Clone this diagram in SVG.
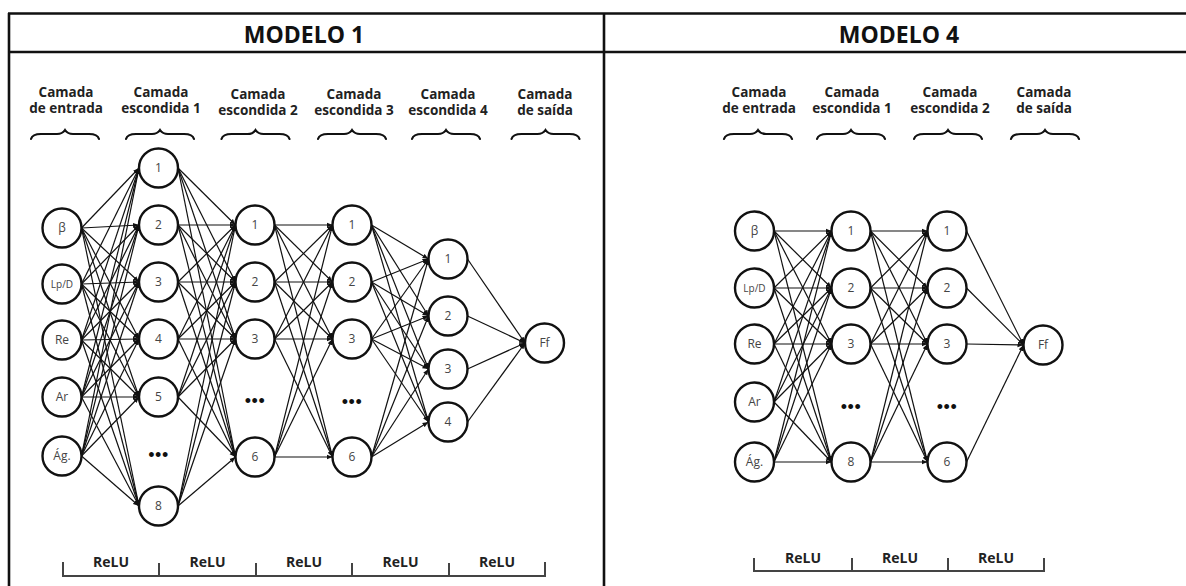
<svg xmlns="http://www.w3.org/2000/svg" width="1186" height="586" viewBox="0 0 1186 586">
  <style>
    .frame { stroke: #111; stroke-width: 2.6; fill: none; }
    .title { font-family: "Open Sans", "Liberation Sans", sans-serif; font-weight: 700; font-size: 23px; fill: #111; text-anchor: middle; }
    .layer { font-family: "Open Sans", "Liberation Sans", sans-serif; font-weight: 700; font-size: 13.5px; fill: #222; text-anchor: middle; }
    .brace { stroke: #111; stroke-width: 2.2; fill: none; stroke-linecap: round; }
    .node circle { fill: #fff; stroke: #111; stroke-width: 2.4; }
    .node text { font-family: "Open Sans", "Liberation Sans", sans-serif; font-size: 12px; fill: #444; text-anchor: middle; }
    .node text.sm { font-size: 10px; }
    .dots { font-family: "Liberation Sans", sans-serif; font-size: 18px; fill: #111; text-anchor: middle; letter-spacing: 0.5px; }
    .edges path { stroke: #111; stroke-width: 1.2; fill: none; marker-end: url(#ah); }
    .bracket { stroke: #444; stroke-width: 2; fill: none; }
    .act { font-family: "Open Sans", "Liberation Sans", sans-serif; font-weight: 700; font-size: 14px; fill: #222; text-anchor: middle; }
  </style>
  <defs>
    <marker id="ah" viewBox="0 0 6 6" refX="6" refY="3" markerWidth="6" markerHeight="6" markerUnits="userSpaceOnUse" orient="auto">
      <path d="M0 0.6L6 3L0 5.4z" fill="#111"/>
    </marker>
    <path id="brace" class="brace" d="M-34 139C-33 135.5 -30 134 -24 134L-8 134C-4 134 -2 133 0 130C2 133 4 134 8 134L24 134C30 134 33 135.5 34 139"/>
  </defs>

  <!-- frame -->
  <g id="frame">
    <path class="frame" d="M8 13.5H1186M8 52H1186M9 13V586M604 13V586"/>
    <text class="title" x="304" y="43">MODELO 1</text>
    <text class="title" x="899" y="43">MODELO 4</text>
  </g>

  <!-- layer captions, model 1 -->
  <g id="captions-m1">
    <text class="layer" x="66" y="97">Camada</text><text class="layer" x="66" y="113">de entrada</text>
    <text class="layer" x="161" y="97">Camada</text><text class="layer" x="161" y="113">escondida 1</text>
    <text class="layer" x="258" y="99">Camada</text><text class="layer" x="258" y="115">escondida 2</text>
    <text class="layer" x="354" y="99">Camada</text><text class="layer" x="354" y="115">escondida 3</text>
    <text class="layer" x="448" y="99">Camada</text><text class="layer" x="448" y="115">escondida 4</text>
    <text class="layer" x="545" y="99">Camada</text><text class="layer" x="545" y="115">de saída</text>
    <use href="#brace" x="65" y="0"/>
    <use href="#brace" x="160" y="0"/>
    <use href="#brace" x="255.5" y="0"/>
    <use href="#brace" x="352" y="0"/>
    <use href="#brace" x="446" y="0"/>
    <use href="#brace" x="545.5" y="0"/>
  </g>

  <!-- layer captions, model 4 -->
  <g id="captions-m4">
    <text class="layer" x="759" y="97">Camada</text><text class="layer" x="759" y="113">de entrada</text>
    <text class="layer" x="852" y="97">Camada</text><text class="layer" x="852" y="113">escondida 1</text>
    <text class="layer" x="950" y="97">Camada</text><text class="layer" x="950" y="113">escondida 2</text>
    <text class="layer" x="1044" y="97">Camada</text><text class="layer" x="1044" y="113">de saída</text>
    <use href="#brace" x="758" y="0"/>
    <use href="#brace" x="851" y="0"/>
    <use href="#brace" x="948" y="0"/>
    <use href="#brace" x="1045" y="0"/>
  </g>

  <!-- connectors -->
  <g id="connectors" class="edges">
    <!-- model 1: input -> hidden 1 -->
    <path d="M81.5 228L139 168"/><path d="M81.5 228L139 225"/><path d="M81.5 228L139 282"/><path d="M81.5 228L139 339"/><path d="M81.5 228L139 397"/><path d="M81.5 228L139 506"/>
    <path d="M81.5 284L139 168"/><path d="M81.5 284L139 225"/><path d="M81.5 284L139 282"/><path d="M81.5 284L139 339"/><path d="M81.5 284L139 397"/><path d="M81.5 284L139 506"/>
    <path d="M81.5 340L139 168"/><path d="M81.5 340L139 225"/><path d="M81.5 340L139 282"/><path d="M81.5 340L139 339"/><path d="M81.5 340L139 397"/><path d="M81.5 340L139 506"/>
    <path d="M81.5 397L139 168"/><path d="M81.5 397L139 225"/><path d="M81.5 397L139 282"/><path d="M81.5 397L139 339"/><path d="M81.5 397L139 397"/><path d="M81.5 397L139 506"/>
    <path d="M81.5 456L139 168"/><path d="M81.5 456L139 225"/><path d="M81.5 456L139 282"/><path d="M81.5 456L139 339"/><path d="M81.5 456L139 397"/><path d="M81.5 456L139 506"/>
    <!-- model 1: hidden 1 -> hidden 2 -->
    <path d="M178 168L235.5 225"/><path d="M178 168L235.5 282"/><path d="M178 168L235.5 339"/><path d="M178 168L235.5 457"/>
    <path d="M178 225L235.5 225"/><path d="M178 225L235.5 282"/><path d="M178 225L235.5 339"/><path d="M178 225L235.5 457"/>
    <path d="M178 282L235.5 225"/><path d="M178 282L235.5 282"/><path d="M178 282L235.5 339"/><path d="M178 282L235.5 457"/>
    <path d="M178 339L235.5 225"/><path d="M178 339L235.5 282"/><path d="M178 339L235.5 339"/><path d="M178 339L235.5 457"/>
    <path d="M178 397L235.5 225"/><path d="M178 397L235.5 282"/><path d="M178 397L235.5 339"/><path d="M178 397L235.5 457"/>
    <path d="M178 506L235.5 225"/><path d="M178 506L235.5 282"/><path d="M178 506L235.5 339"/><path d="M178 506L235.5 457"/>
    <!-- model 1: hidden 2 -> hidden 3 -->
    <path d="M274.5 225L332.5 225"/><path d="M274.5 225L332.5 282"/><path d="M274.5 225L332.5 339"/><path d="M274.5 225L332.5 457"/>
    <path d="M274.5 282L332.5 225"/><path d="M274.5 282L332.5 282"/><path d="M274.5 282L332.5 339"/><path d="M274.5 282L332.5 457"/>
    <path d="M274.5 339L332.5 225"/><path d="M274.5 339L332.5 282"/><path d="M274.5 339L332.5 339"/><path d="M274.5 339L332.5 457"/>
    <path d="M274.5 457L332.5 225"/><path d="M274.5 457L332.5 282"/><path d="M274.5 457L332.5 339"/><path d="M274.5 457L332.5 457"/>
    <!-- model 1: hidden 3 -> hidden 4 -->
    <path d="M371.5 225L428.5 259"/><path d="M371.5 225L428.5 316"/><path d="M371.5 225L428.5 369"/><path d="M371.5 225L428.5 422"/>
    <path d="M371.5 282L428.5 259"/><path d="M371.5 282L428.5 316"/><path d="M371.5 282L428.5 369"/><path d="M371.5 282L428.5 422"/>
    <path d="M371.5 339L428.5 259"/><path d="M371.5 339L428.5 316"/><path d="M371.5 339L428.5 369"/><path d="M371.5 339L428.5 422"/>
    <path d="M371.5 457L428.5 259"/><path d="M371.5 457L428.5 316"/><path d="M371.5 457L428.5 369"/><path d="M371.5 457L428.5 422"/>
    <!-- model 1: hidden 4 -> output -->
    <path d="M467.5 259L525 343"/><path d="M467.5 316L525 343"/><path d="M467.5 369L525 343"/><path d="M467.5 422L525 343"/>

    <!-- model 4: input -> hidden 1 -->
    <path d="M774 231L831.5 231"/><path d="M774 231L831.5 288"/><path d="M774 231L831.5 344"/><path d="M774 231L831.5 462"/>
    <path d="M774 288L831.5 231"/><path d="M774 288L831.5 288"/><path d="M774 288L831.5 344"/><path d="M774 288L831.5 462"/>
    <path d="M774 344L831.5 231"/><path d="M774 344L831.5 288"/><path d="M774 344L831.5 344"/><path d="M774 344L831.5 462"/>
    <path d="M774 402L831.5 231"/><path d="M774 402L831.5 288"/><path d="M774 402L831.5 344"/><path d="M774 402L831.5 462"/>
    <path d="M774 462L831.5 231"/><path d="M774 462L831.5 288"/><path d="M774 462L831.5 344"/><path d="M774 462L831.5 462"/>
    <!-- model 4: hidden 1 -> hidden 2 -->
    <path d="M870.5 231L927.5 231"/><path d="M870.5 231L927.5 288"/><path d="M870.5 231L927.5 344"/><path d="M870.5 231L927.5 462"/>
    <path d="M870.5 288L927.5 231"/><path d="M870.5 288L927.5 288"/><path d="M870.5 288L927.5 344"/><path d="M870.5 288L927.5 462"/>
    <path d="M870.5 344L927.5 231"/><path d="M870.5 344L927.5 288"/><path d="M870.5 344L927.5 344"/><path d="M870.5 344L927.5 462"/>
    <path d="M870.5 462L927.5 231"/><path d="M870.5 462L927.5 288"/><path d="M870.5 462L927.5 344"/><path d="M870.5 462L927.5 462"/>
    <!-- model 4: hidden 2 -> output -->
    <path d="M966.5 231L1023.5 345"/><path d="M966.5 288L1023.5 345"/><path d="M966.5 344L1023.5 345"/><path d="M966.5 462L1023.5 345"/>
  </g>

  <!-- model 1 nodes -->
  <g id="m1-in-beta" class="node"><circle cx="62" cy="228" r="19.5"/><text x="62" y="232">β</text></g>
  <g id="m1-in-lpd" class="node"><circle cx="62" cy="284" r="19.5"/><text class="sm" x="62" y="288">Lp/D</text></g>
  <g id="m1-in-re" class="node"><circle cx="62" cy="340" r="19.5"/><text x="62" y="344">Re</text></g>
  <g id="m1-in-ar" class="node"><circle cx="62" cy="397" r="19.5"/><text x="62" y="401">Ar</text></g>
  <g id="m1-in-ag" class="node"><circle cx="62" cy="456" r="19.5"/><text x="62" y="460">Ág.</text></g>

  <g id="m1-h1-1" class="node"><circle cx="158.5" cy="168" r="19.5"/><text x="158.5" y="172">1</text></g>
  <g id="m1-h1-2" class="node"><circle cx="158.5" cy="225" r="19.5"/><text x="158.5" y="229">2</text></g>
  <g id="m1-h1-3" class="node"><circle cx="158.5" cy="282" r="19.5"/><text x="158.5" y="286">3</text></g>
  <g id="m1-h1-4" class="node"><circle cx="158.5" cy="339" r="19.5"/><text x="158.5" y="343">4</text></g>
  <g id="m1-h1-5" class="node"><circle cx="158.5" cy="397" r="19.5"/><text x="158.5" y="401">5</text></g>
  <g id="m1-h1-8" class="node"><circle cx="158.5" cy="506" r="19.5"/><text x="158.5" y="510">8</text></g>
  <text class="dots" x="158.5" y="461">•••</text>

  <g id="m1-h2-1" class="node"><circle cx="255" cy="225" r="19.5"/><text x="255" y="229">1</text></g>
  <g id="m1-h2-2" class="node"><circle cx="255" cy="282" r="19.5"/><text x="255" y="286">2</text></g>
  <g id="m1-h2-3" class="node"><circle cx="255" cy="339" r="19.5"/><text x="255" y="343">3</text></g>
  <g id="m1-h2-6" class="node"><circle cx="255" cy="457" r="19.5"/><text x="255" y="461">6</text></g>
  <text class="dots" x="255" y="407">•••</text>

  <g id="m1-h3-1" class="node"><circle cx="352" cy="225" r="19.5"/><text x="352" y="229">1</text></g>
  <g id="m1-h3-2" class="node"><circle cx="352" cy="282" r="19.5"/><text x="352" y="286">2</text></g>
  <g id="m1-h3-3" class="node"><circle cx="352" cy="339" r="19.5"/><text x="352" y="343">3</text></g>
  <g id="m1-h3-6" class="node"><circle cx="352" cy="457" r="19.5"/><text x="352" y="461">6</text></g>
  <text class="dots" x="352" y="408">•••</text>

  <g id="m1-h4-1" class="node"><circle cx="448" cy="259" r="19.5"/><text x="448" y="263">1</text></g>
  <g id="m1-h4-2" class="node"><circle cx="448" cy="316" r="19.5"/><text x="448" y="320">2</text></g>
  <g id="m1-h4-3" class="node"><circle cx="448" cy="369" r="19.5"/><text x="448" y="373">3</text></g>
  <g id="m1-h4-4" class="node"><circle cx="448" cy="422" r="19.5"/><text x="448" y="426">4</text></g>

  <g id="m1-out-ff" class="node"><circle cx="544.5" cy="343" r="19.5"/><text x="544.5" y="347">Ff</text></g>

  <!-- model 4 nodes -->
  <g id="m4-in-beta" class="node"><circle cx="754.5" cy="231" r="19.5"/><text x="754.5" y="235">β</text></g>
  <g id="m4-in-lpd" class="node"><circle cx="754.5" cy="288" r="19.5"/><text class="sm" x="754.5" y="292">Lp/D</text></g>
  <g id="m4-in-re" class="node"><circle cx="754.5" cy="344" r="19.5"/><text x="754.5" y="348">Re</text></g>
  <g id="m4-in-ar" class="node"><circle cx="754.5" cy="402" r="19.5"/><text x="754.5" y="406">Ar</text></g>
  <g id="m4-in-ag" class="node"><circle cx="754.5" cy="462" r="19.5"/><text x="754.5" y="466">Ág.</text></g>

  <g id="m4-h1-1" class="node"><circle cx="851" cy="231" r="19.5"/><text x="851" y="235">1</text></g>
  <g id="m4-h1-2" class="node"><circle cx="851" cy="288" r="19.5"/><text x="851" y="292">2</text></g>
  <g id="m4-h1-3" class="node"><circle cx="851" cy="344" r="19.5"/><text x="851" y="348">3</text></g>
  <g id="m4-h1-8" class="node"><circle cx="851" cy="462" r="19.5"/><text x="851" y="466">8</text></g>
  <text class="dots" x="851" y="413">•••</text>

  <g id="m4-h2-1" class="node"><circle cx="947" cy="231" r="19.5"/><text x="947" y="235">1</text></g>
  <g id="m4-h2-2" class="node"><circle cx="947" cy="288" r="19.5"/><text x="947" y="292">2</text></g>
  <g id="m4-h2-3" class="node"><circle cx="947" cy="344" r="19.5"/><text x="947" y="348">3</text></g>
  <g id="m4-h2-6" class="node"><circle cx="947" cy="462" r="19.5"/><text x="947" y="466">6</text></g>
  <text class="dots" x="947" y="413">•••</text>

  <g id="m4-out-ff" class="node"><circle cx="1043" cy="345" r="19.5"/><text x="1043" y="349">Ff</text></g>

  <!-- activation brackets -->
  <g id="act-m1">
    <path class="bracket" d="M63 562V576H545V562M159 563V576M256 563V576M352 563V576M449 563V576"/>
    <text class="act" x="111" y="567">ReLU</text>
    <text class="act" x="207.5" y="567">ReLU</text>
    <text class="act" x="304" y="567">ReLU</text>
    <text class="act" x="400.5" y="567">ReLU</text>
    <text class="act" x="497" y="567">ReLU</text>
  </g>
  <g id="act-m4">
    <path class="bracket" d="M754 558V571H1044V558M852 558V571M948 558V571"/>
    <text class="act" x="803" y="563">ReLU</text>
    <text class="act" x="900" y="563">ReLU</text>
    <text class="act" x="996" y="563">ReLU</text>
  </g>
</svg>
